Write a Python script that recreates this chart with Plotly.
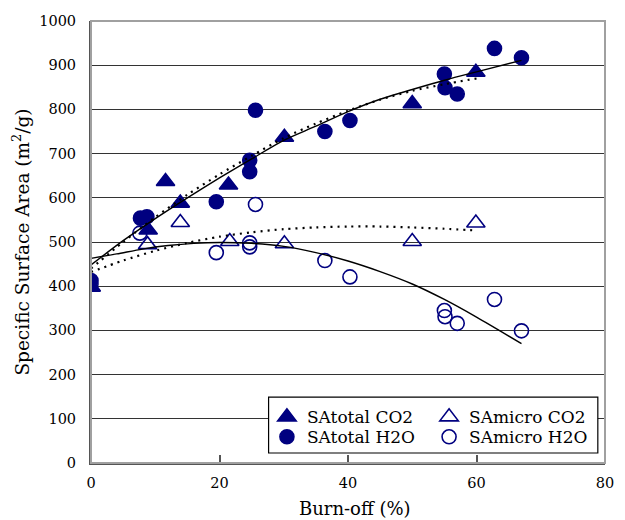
import plotly.graph_objects as go

# Burn-off (%) and specific surface area (m2/g) for each activation series
total_co2_x = [0, 8.9, 11.6, 13.9, 21.4, 30.1, 50.0, 59.9]
total_co2_y = [398, 527, 637, 588, 629, 737, 813, 884]

total_h2o_x = [0, 7.7, 8.7, 19.5, 24.7, 24.7, 25.6, 36.4, 40.3, 55.0, 55.1, 57.0, 62.8, 67.0]
total_h2o_y = [413, 554, 557, 591, 685, 659, 798, 750, 775, 880, 849, 835, 938, 917]

micro_co2_x = [0, 8.8, 13.9, 21.6, 30.1, 50.0, 59.9]
micro_co2_y = [398, 494, 544, 501, 496, 501, 543]

micro_h2o_x = [0, 7.6, 19.5, 24.7, 24.7, 25.6, 36.4, 40.3, 55.0, 55.1, 57.0, 62.8, 67.0]
micro_h2o_y = [405, 520, 476, 498, 489, 585, 458, 421, 345, 331, 316, 370, 299]

# Trend curves (solid: H2O activation, dotted: CO2 activation)
trend_total_h2o_x = [0, 5, 10, 15, 20, 25, 30, 35, 40, 45, 50, 55, 60, 67]
trend_total_h2o_y = [448, 503, 553, 600, 645, 688, 730, 762, 795, 823, 845, 866, 885, 911]

trend_total_co2_x = [0, 5, 10, 15, 20, 25, 30, 35, 40, 45, 50, 55, 60]
trend_total_co2_y = [440, 500, 556, 607, 653, 695, 735, 768, 797, 822, 842, 857, 870]

trend_micro_h2o_x = [0, 4, 8, 12, 16, 20, 25, 30, 35, 40, 45, 50, 55, 60, 67]
trend_micro_h2o_y = [463, 473, 484, 492, 497, 499, 497, 490, 476, 457, 433, 405, 370, 330, 270]

trend_micro_co2_x = [0, 5, 10, 15, 20, 25, 30, 35, 40, 45, 50, 55, 60]
trend_micro_co2_y = [432, 458, 480, 498, 512, 522, 529, 533, 535, 535, 533, 530, 526]

x_ticks = [0, 20, 40, 60, 80]
y_ticks = [0, 100, 200, 300, 400, 500, 600, 700, 800, 900, 1000]

NAVY = "#000080"
FONT = "DejaVu Serif"

# plot-area geometry in pixels, used to place legend/frame in paper units
L, R, T, B = 91, 614, 20.7, 463.3
W, H = R - L, B - T


def px_x(p):
    return (p - L) / W


def px_y(p):
    return (B - p) / H


fig = go.Figure()

series = [
    ("SAtotal CO2", total_co2_x, total_co2_y, "triangle-up", "legend"),
    ("SAtotal H2O", total_h2o_x, total_h2o_y, "circle", "legend2"),
    ("SAmicro CO2", micro_co2_x, micro_co2_y, "triangle-up-open", "legend3"),
    ("SAmicro H2O", micro_h2o_x, micro_h2o_y, "circle-open", "legend4"),
]
for name, xs, ys, symbol, leg in series:
    tri = symbol.startswith("triangle")
    fig.add_trace(go.Scatter(
        x=xs, y=ys, mode="markers", name=name, legend=leg,
        marker=dict(symbol=symbol, size=16 if tri else 14, color=NAVY,
                    line=dict(color=NAVY, width=1.6)),
    ))

trend_specs = [
    (trend_total_h2o_x, trend_total_h2o_y, "solid", 1.4),
    (trend_total_co2_x, trend_total_co2_y, "2px,5px", 2.2),
    (trend_micro_h2o_x, trend_micro_h2o_y, "solid", 1.4),
    (trend_micro_co2_x, trend_micro_co2_y, "2px,5px", 2.2),
]
for xs, ys, dash, w in trend_specs:
    fig.add_trace(go.Scatter(x=xs, y=ys, mode="lines", showlegend=False,
                             hoverinfo="skip",
                             line=dict(color="black", width=w, dash=dash,
                                       shape="spline", smoothing=0.8)))

# legend frame spanning both legend columns
fig.add_shape(type="rect", xref="paper", yref="paper",
              x0=px_x(271.7), x1=px_x(606.7), y0=px_y(453.3), y1=px_y(397.3),
              line=dict(color="black", width=1.2), fillcolor="white",
              layer="above")
# plot frame (top and right edges)
fig.add_shape(type="rect", xref="paper", yref="paper", x0=0, x1=1, y0=0, y1=1,
              line=dict(color="#a0a0a0", width=2), layer="above")

# x-axis title, slightly right of the plot centre
fig.add_annotation(text="Burn-off (%)", xref="paper", yref="paper",
                   x=px_x(360), y=px_y(509), xanchor="center", yanchor="middle",
                   showarrow=False,
                   font=dict(family=FONT, size=18, color="black"))

legend_common = dict(
    font=dict(family=FONT, size=17, color="black"),
    bgcolor="rgba(0,0,0,0)", borderwidth=0,
    yanchor="top", xanchor="left", tracegroupgap=0,
    itemwidth=30,
)
col1, col2 = px_x(270), px_x(435)
row1, row2 = px_y(399.5), px_y(419.5)

fig.update_layout(
    width=625, height=520,
    margin=dict(l=int(L), r=11, t=21, b=57),
    paper_bgcolor="white", plot_bgcolor="white",
    font=dict(family=FONT, size=17, color="black"),
    legend=dict(x=col1, y=row1, **legend_common),
    legend2=dict(x=col1, y=row2, **legend_common),
    legend3=dict(x=col2, y=row1, **legend_common),
    legend4=dict(x=col2, y=row2, **legend_common),
    xaxis=dict(
        range=[0, 80], tickvals=x_ticks, ticks="inside", ticklen=8,
        tickcolor="#555", tickwidth=1.5,
        showline=True, linecolor="#555", linewidth=2,
        showgrid=False, zeroline=False,
        ticklabelstandoff=6,
        tickfont=dict(family=FONT, size=14.5, color="black"),
    ),
    yaxis=dict(
        range=[0, 1000], tickvals=y_ticks, ticks="",
        showline=True, linecolor="#555", linewidth=2,
        showgrid=True, gridcolor="#333", gridwidth=1, zeroline=False,
        ticklabelstandoff=10,
        tickfont=dict(family=FONT, size=14.5, color="black"),
        title=dict(text="Specific Surface Area (m<sup>2</sup>/g)", standoff=5,
                   font=dict(family=FONT, size=18.5, color="black")),
    ),
)

fig.write_html("out.html")
